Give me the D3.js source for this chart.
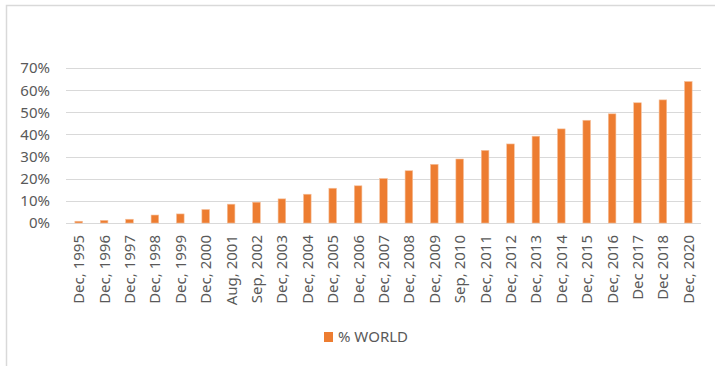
<!DOCTYPE html>
<html>
<head>
<meta charset="utf-8">
<script src="https://cdn.jsdelivr.net/npm/d3@7"></script>
<style>
  body { margin: 0; background: #fff; }
  text { font-family: "Noto Sans", "Open Sans", sans-serif; fill: #595959; }
</style>
</head>
<body>
<script>
// categories and values
const labels = ["Dec, 1995", "Dec, 1996", "Dec, 1997", "Dec, 1998", "Dec, 1999", "Dec, 2000",
  "Aug, 2001", "Sep, 2002", "Dec, 2003", "Dec, 2004", "Dec, 2005", "Dec, 2006", "Dec, 2007",
  "Dec, 2008", "Dec, 2009", "Sep, 2010", "Dec, 2011", "Dec, 2012", "Dec, 2013", "Dec, 2014",
  "Dec, 2015", "Dec, 2016", "Dec 2017", "Dec 2018", "Dec, 2020"]
const world = [0.8, 1.2, 1.7, 3.6, 4.1, 6.1, 8.5, 9.4, 10.9, 13.0, 15.7, 16.8, 20.1,
  23.6, 26.5, 28.9, 32.8, 35.7, 39.2, 42.5, 46.4, 49.3, 54.3, 55.6, 63.9]
const yTicks = [0, 10, 20, 30, 40, 50, 60, 70]
const seriesName = "% WORLD"

const width = 715, height = 366
const m = {left: 66, right: 14, top: 68, bottom: 143}

const svg = d3.select("body").append("svg")
    .attr("width", width)
    .attr("height", height)

// chart frame
svg.append("path")
    .attr("d", `M6.5,${height} V5.5 H${width}`)
    .attr("fill", "none")
    .attr("stroke", "#d9d9d9")
    .attr("stroke-width", 1.5)

const x = d3.scaleBand()
    .domain(labels)
    .range([m.left, width - m.right])
    .paddingInner(0.7)
    .paddingOuter(0.35)

const y = d3.scaleLinear()
    .domain([0, 70])
    .range([height - m.bottom, m.top])

// gridlines
svg.append("g")
  .selectAll("line")
  .data(yTicks)
  .join("line")
    .attr("x1", m.left)
    .attr("x2", width - m.right)
    .attr("y1", d => Math.round(y(d)) + 0.5)
    .attr("y2", d => Math.round(y(d)) + 0.5)
    .attr("stroke", "#d9d9d9")

// y labels
svg.append("g")
  .selectAll("text")
  .data(yTicks)
  .join("text")
    .attr("x", 50)
    .attr("y", d => y(d))
    .attr("dy", "0.36em")
    .attr("text-anchor", "end")
    .style("font-size", "15px")
    .text(d => d + "%")

// bars
svg.append("g")
  .selectAll("rect")
  .data(world)
  .join("rect")
    .attr("x", (d, i) => x(labels[i]))
    .attr("width", x.bandwidth())
    .attr("y", d => y(d))
    .attr("height", d => y(0) - y(d))
    .attr("fill", "#ED7D31")
    .attr("stroke", "#f6c09c")
    .attr("stroke-width", 0.6)

// x labels, rotated
svg.append("g")
  .selectAll("text")
  .data(labels)
  .join("text")
    .attr("transform", d => `translate(${x(d) + x.bandwidth() / 2},${y(0) + 12}) rotate(-90)`)
    .attr("dy", "0.36em")
    .attr("text-anchor", "end")
    .style("font-size", "15px")
    .text(d => d)

// legend
const lg = svg.append("g").attr("transform", "translate(324,332)")
lg.append("rect")
    .attr("width", 9)
    .attr("height", 10)
    .attr("fill", "#ED7D31")
lg.append("text")
    .attr("x", 14)
    .attr("y", 5)
    .attr("dy", "0.36em")
    .style("font-size", "15px")
    .text(seriesName)
</script>
</body>
</html>
